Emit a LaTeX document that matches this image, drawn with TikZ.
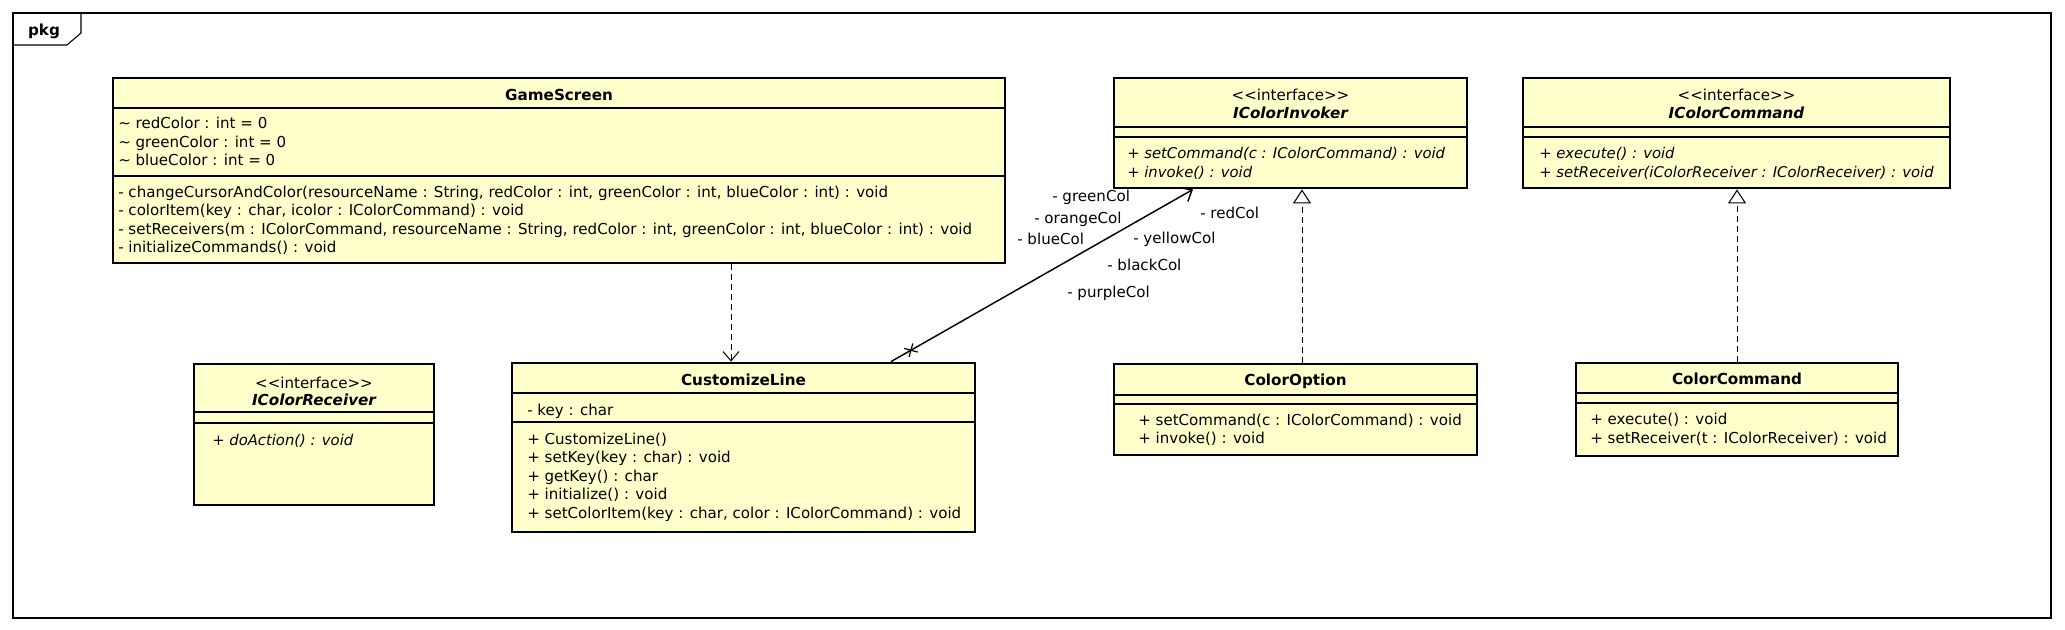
\documentclass[tikz,border=0pt]{standalone}
\usepackage{fontspec}
\setmainfont{DejaVu Sans}
\usetikzlibrary{arrows.meta,fit,calc}
\definecolor{clsfill}{HTML}{FFFFCC}
\begin{document}
\begin{tikzpicture}[x=0.75pt,y=-0.75pt,
  cls/.style={draw, line width=2.1pt, fill=clsfill, inner sep=0pt},
  sep/.style={line width=0.8pt},
  tfont/.style={font=\fontsize{11.3pt}{13pt}\selectfont},
  txt/.style={tfont, inner sep=0pt, anchor=base west, yshift=-4pt},
  itxt/.style={txt, font=\fontsize{11.1pt}{13pt}\selectfont\itshape},
  ttl/.style={tfont, inner sep=0pt, anchor=base, yshift=-4pt, font=\fontsize{11.4pt}{13pt}\selectfont\bfseries},
  ittl/.style={ttl, font=\fontsize{11.4pt}{13pt}\selectfont\bfseries\itshape},
  ster/.style={tfont, inner sep=0pt, anchor=base, yshift=-4pt},
  role/.style={txt},
  conn/.style={line width=0.75pt},
  dep/.style={conn, dash pattern=on 4pt off 3.5pt, -{Straight Barb[length=7pt,width=12pt]}},
  real/.style={conn, dash pattern=on 4pt off 3.5pt, -{Triangle[open,length=10.5pt,width=13.5pt,line width=0.8pt]}},
  assoc/.style={line width=1.1pt, -{Straight Barb[length=7pt,width=12pt]}}
]
\useasboundingbox[fill=white] (0,0) rectangle (2065,630);
% frame
\draw[line width=0.8pt] (13,13) rectangle (2051,618);
\draw[line width=0.8pt] (13,45) -- (67,45) -- (81,33) -- (81,13);
\node[font=\fontsize{11.4pt}{13pt}\selectfont\bfseries, inner sep=0pt, anchor=base, yshift=-4pt] (pkg) at (44,30) {pkg};

% GameScreen
\node[cls, fit={(113,78) (1005,263)}] (gs) {};
\draw[sep] (gs.west |- 0,108) -- (gs.east |- 0,108);
\draw[sep] (gs.west |- 0,176) -- (gs.east |- 0,176);
\node[ttl] (gst) at (559,95) {GameScreen};
\node[txt] (gsa1) at (118,123) {\textasciitilde{} redColor : int = 0};
\node[txt] (gsa2) at (118,142) {\textasciitilde{} greenColor : int = 0};
\node[txt] (gsa3) at (118,160) {\textasciitilde{} blueColor : int = 0};
\node[txt] (gsm1) at (118,192) {- changeCursorAndColor(resourceName : String, redColor : int, greenColor : int, blueColor : int) : void};
\node[txt] (gsm2) at (118,210) {- colorItem(key : char, icolor : IColorCommand) : void};
\node[txt] (gsm3) at (118,229) {- setReceivers(m : IColorCommand, resourceName : String, redColor : int, greenColor : int, blueColor : int) : void};
\node[txt] (gsm4) at (118,247) {- initializeCommands() : void};

% IColorInvoker
\node[cls, fit={(1114,78) (1467,188)}] (ci) {};
\draw[sep] (ci.west |- 0,127) -- (ci.east |- 0,127);
\draw[sep] (ci.west |- 0,137) -- (ci.east |- 0,137);
\node[ster] (cis) at (1290.5,95) {<{}<interface>{}>};
\node[ittl] (cit) at (1290.5,113) {IColorInvoker};
\node[itxt] (cim1) at (1127,153) {+ setCommand(c : IColorCommand) : void};
\node[itxt] (cim2) at (1127,172) {+ invoke() : void};

% IColorCommand
\node[cls, fit={(1523,78) (1950,188)}] (cc) {};
\draw[sep] (cc.west |- 0,127) -- (cc.east |- 0,127);
\draw[sep] (cc.west |- 0,137) -- (cc.east |- 0,137);
\node[ster] (ccs) at (1736.5,95) {<{}<interface>{}>};
\node[ittl] (cct) at (1736.5,113) {IColorCommand};
\node[itxt] (ccm1) at (1539,153) {+ execute() : void};
\node[itxt] (ccm2) at (1539,172) {+ setReceiver(iColorReceiver : IColorReceiver) : void};

% IColorReceiver
\node[cls, fit={(194,364) (434,505)}] (cr) {};
\draw[sep] (cr.west |- 0,412) -- (cr.east |- 0,412);
\draw[sep] (cr.west |- 0,423) -- (cr.east |- 0,423);
\node[ster] (crs) at (314,383) {<{}<interface>{}>};
\node[ittl] (crt) at (314,400) {IColorReceiver};
\node[itxt] (crm1) at (212,440) {+ doAction() : void};

% CustomizeLine
\node[cls, fit={(512,363) (975,532)}] (cl) {};
\draw[sep] (cl.west |- 0,393) -- (cl.east |- 0,393);
\draw[sep] (cl.west |- 0,422) -- (cl.east |- 0,422);
\node[ttl] (clt) at (743.5,380) {CustomizeLine};
\node[txt] (cla1) at (527,410) {- key : char};
\node[txt] (clm1) at (527,439) {+ CustomizeLine()};
\node[txt] (clm2) at (527,457) {+ setKey(key : char) : void};
\node[txt] (clm3) at (527,476) {+ getKey() : char};
\node[txt] (clm4) at (527,494) {+ initialize() : void};
\node[txt] (clm5) at (527,513) {+ setColorItem(key : char, color : IColorCommand) : void};

% ColorOption
\node[cls, fit={(1114,364) (1477,455)}] (co) {};
\draw[sep] (co.west |- 0,395) -- (co.east |- 0,395);
\draw[sep] (co.west |- 0,404) -- (co.east |- 0,404);
\node[ttl] (cot) at (1295.5,380) {ColorOption};
\node[txt] (com1) at (1138,420) {+ setCommand(c : IColorCommand) : void};
\node[txt] (com2) at (1138,438) {+ invoke() : void};

% ColorCommand
\node[cls, fit={(1576,363) (1898,456)}] (cm) {};
\draw[sep] (cm.west |- 0,393) -- (cm.east |- 0,393);
\draw[sep] (cm.west |- 0,403) -- (cm.east |- 0,403);
\node[ttl] (cmt) at (1737,379) {ColorCommand};
\node[txt] (cmm1) at (1590,419) {+ execute() : void};
\node[txt] (cmm2) at (1590,438) {+ setReceiver(t : IColorReceiver) : void};

% connectors
\draw[dep] (731,0 |- gs.south) -- (731,0 |- cl.north);
\draw[real] (1302,0 |- co.north) -- (1302,0 |- ci.south);
\draw[real] (1737,0 |- cm.north) -- (1737,0 |- cc.south);
\coordinate (as) at (891,0 |- cl.north);
\coordinate (ae) at (1193,0 |- ci.south);
\draw[assoc] (as) -- (ae);
\coordinate (xm) at ($(as)!0.066!(ae)$);
\draw[line width=0.9pt] ($(xm)+(-6.75,-1.85)$) -- ($(xm)+(6.75,1.85)$);
\draw[line width=0.9pt] ($(xm)+(-1.85,6.75)$) -- ($(xm)+(1.85,-6.75)$);

% role names
\node[role] (r1) at (1052,196) {- greenCol};
\node[role] (r2) at (1034,218) {- orangeCol};
\node[role] (r3) at (1017,239) {- blueCol};
\node[role] (r4) at (1200,213) {- redCol};
\node[role] (r5) at (1133,238) {- yellowCol};
\node[role] (r6) at (1107,265) {- blackCol};
\node[role] (r7) at (1067,292) {- purpleCol};
\end{tikzpicture}
\end{document}
